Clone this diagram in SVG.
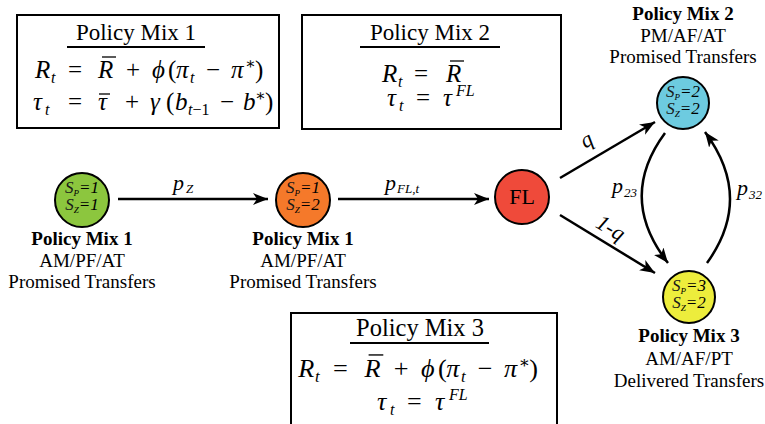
<svg xmlns="http://www.w3.org/2000/svg" width="765" height="424" viewBox="0 0 765 424" font-family="'Liberation Serif', Tinos, 'Times New Roman', 'DejaVu Serif', serif">
  <style>
    text, tspan { font-family: "Liberation Serif", Tinos, "Times New Roman", "DejaVu Serif", serif; fill: #000; }
    .box { fill: #fff; stroke: #000; stroke-width: 2; }
    .rule { stroke: #000; stroke-width: 2; }
    .bar { stroke: #000; stroke-width: 1.3; }
    .title { font-size: 23px; text-anchor: middle; }
    .eq { font-size: 25px; }
    .i { font-style: italic; }
    .sub { font-size: 16px; }
    .node { stroke: #000; stroke-width: 2; }
    .st { font-size: 17px; font-style: italic; text-anchor: middle; fill: #1a1a1a; }
    .st .s { font-size: 9px; }
    .lbl { font-size: 19px; text-anchor: middle; }
    .lbl .b { font-weight: bold; }
    .edge { fill: none; stroke: #000; stroke-width: 2.5; marker-end: url(#head); }
    .el { font-size: 22px; font-style: italic; }
    .el .s { font-size: 13px; }
  </style>
  <defs>
    <marker id="head" markerUnits="userSpaceOnUse" viewBox="0 0 15 12" refX="15" refY="6" markerWidth="15" markerHeight="12" orient="auto">
      <path d="M0,0 L15,6 L0,12 L4,6 Z" fill="#000"/>
    </marker>
  </defs>

  <!-- Policy Mix 1 rule box -->
  <g id="box-mix1">
    <rect class="box" x="17" y="15" width="262" height="113"/>
    <text class="title" x="136" y="40">Policy Mix 1</text>
    <line class="rule" x1="67" y1="47" x2="205" y2="47"/>
    <text class="eq">
      <tspan class="i" x="35" y="78">R</tspan><tspan class="i sub" x="51" y="83">t</tspan>
      <tspan x="68" y="78">=</tspan>
      <tspan class="i" x="98" y="78">R</tspan>
      <tspan x="126" y="78">+</tspan>
      <tspan class="i" x="152" y="78">ϕ</tspan><tspan x="168" y="78">(</tspan><tspan class="i" x="176" y="78">π</tspan><tspan class="i sub" x="190" y="83">t</tspan>
      <tspan x="206" y="78">−</tspan>
      <tspan class="i" x="231" y="78">π</tspan><tspan class="sub" x="245" y="69">∗</tspan><tspan x="255" y="78">)</tspan>
    </text>
    <line class="bar" x1="102" y1="57" x2="116" y2="57"/>
    <text class="eq">
      <tspan class="i" x="33" y="110">τ</tspan><tspan class="i sub" x="45" y="115">t</tspan>
      <tspan x="68" y="110">=</tspan>
      <tspan class="i" x="98" y="110">τ</tspan>
      <tspan x="125" y="110">+</tspan>
      <tspan class="i" x="150" y="110">γ</tspan><tspan x="166" y="110">(</tspan><tspan class="i" x="175" y="110">b</tspan><tspan class="sub" x="188" y="115"><tspan class="i">t</tspan>−1</tspan>
      <tspan x="220" y="110">−</tspan>
      <tspan class="i" x="243" y="110">b</tspan><tspan class="sub" x="255" y="101">∗</tspan><tspan x="265" y="110">)</tspan>
    </text>
    <line class="bar" x1="99" y1="94" x2="110" y2="94"/>
  </g>

  <!-- Policy Mix 2 rule box -->
  <g id="box-mix2">
    <rect class="box" x="302" y="15" width="259" height="114"/>
    <text class="title" x="430" y="40">Policy Mix 2</text>
    <line class="rule" x1="360" y1="47" x2="500" y2="47"/>
    <text class="eq">
      <tspan class="i" x="382" y="82">R</tspan><tspan class="i sub" x="398" y="87">t</tspan>
      <tspan x="414" y="82">=</tspan>
      <tspan class="i" x="446" y="82">R</tspan>
    </text>
    <line class="bar" x1="450" y1="61" x2="464" y2="61"/>
    <text class="eq">
      <tspan class="i" x="387" y="106">τ</tspan><tspan class="i sub" x="399" y="111">t</tspan>
      <tspan x="416" y="106">=</tspan>
      <tspan class="i" x="443" y="106">τ</tspan><tspan class="i sub" x="456" y="96">FL</tspan>
    </text>
  </g>

  <!-- Policy Mix 3 rule box -->
  <g id="box-mix3">
    <rect class="box" x="291" y="313" width="266" height="120"/>
    <text class="title" x="420" y="336" style="font-size:24.5px">Policy Mix 3</text>
    <line class="rule" x1="350" y1="343" x2="489" y2="343"/>
    <g transform="translate(261.5,295.1) scale(1.05)">
      <text class="eq">
        <tspan class="i" x="35" y="78">R</tspan><tspan class="i sub" x="51" y="83">t</tspan>
        <tspan x="68" y="78">=</tspan>
        <tspan class="i" x="98" y="78">R</tspan>
        <tspan x="126" y="78">+</tspan>
        <tspan class="i" x="152" y="78">ϕ</tspan><tspan x="168" y="78">(</tspan><tspan class="i" x="176" y="78">π</tspan><tspan class="i sub" x="190" y="83">t</tspan>
        <tspan x="206" y="78">−</tspan>
        <tspan class="i" x="231" y="78">π</tspan><tspan class="sub" x="245" y="69">∗</tspan><tspan x="255" y="78">)</tspan>
      </text>
      <line class="bar" x1="102" y1="57" x2="116" y2="57"/>
    </g>
    <text class="eq" style="font-size:26px">
      <tspan class="i" x="377" y="410">τ</tspan><tspan class="i sub" x="390" y="415">t</tspan>
      <tspan x="407" y="410">=</tspan>
      <tspan class="i" x="435" y="410">τ</tspan><tspan class="i sub" x="449" y="400">FL</tspan>
    </text>
  </g>

  <!-- Connectors -->
  <g id="connectors">
    <path class="edge" d="M118,199 L268,199"/>
    <path class="edge" d="M338,199 L489,199"/>
    <path class="edge" d="M560,178 L655,122"/>
    <path class="edge" d="M560,215 L655,273"/>
    <path class="edge" d="M665,133 Q617,198 668,263"/>
    <path class="edge" d="M707,263 Q754,198 705,132"/>
    <text class="el" x="173" y="190">p<tspan class="s" x="186" y="193">Z</tspan></text>
    <text class="el" x="385" y="190">p<tspan class="s" x="397" y="193">FL,t</tspan></text>
    <text class="el" text-anchor="middle" transform="translate(590,146) rotate(-31)">q</text>
    <text class="el" text-anchor="middle" transform="translate(607,234) rotate(31)">1-q</text>
    <text class="el" x="612" y="193">p<tspan class="s" x="624" y="197">23</tspan></text>
    <text class="el" x="737" y="195">p<tspan class="s" x="749" y="199">32</tspan></text>
  </g>

  <!-- Start state -->
  <g id="node-start">
    <circle class="node" cx="82" cy="200" r="27" fill="#8cc63e"/>
    <text class="st" x="82" y="193">S<tspan class="s" dy="3">P</tspan><tspan dy="-3">=1</tspan></text>
    <text class="st" x="82" y="210">S<tspan class="s" dy="3">Z</tspan><tspan dy="-3">=1</tspan></text>
    <text class="lbl" x="82" y="245"><tspan class="b">Policy Mix 1</tspan></text>
    <text class="lbl" x="82" y="267">AM/PF/AT</text>
    <text class="lbl" x="82" y="288">Promised Transfers</text>
  </g>

  <!-- Second state -->
  <g id="node-second">
    <circle class="node" cx="303" cy="200" r="27" fill="#f5792a"/>
    <text class="st" x="303" y="193">S<tspan class="s" dy="3">P</tspan><tspan dy="-3">=1</tspan></text>
    <text class="st" x="303" y="210">S<tspan class="s" dy="3">Z</tspan><tspan dy="-3">=2</tspan></text>
    <text class="lbl" x="303" y="245"><tspan class="b">Policy Mix 1</tspan></text>
    <text class="lbl" x="303" y="267">AM/PF/AT</text>
    <text class="lbl" x="303" y="288">Promised Transfers</text>
  </g>

  <!-- Fiscal limit -->
  <g id="node-fl">
    <circle class="node" cx="522" cy="197" r="27" fill="#ef4a3a"/>
    <text x="522" y="204" text-anchor="middle" style="font-size:22px">FL</text>
  </g>

  <!-- Policy Mix 2 state -->
  <g id="node-mix2">
    <text class="lbl" x="683" y="20"><tspan class="b">Policy Mix 2</tspan></text>
    <text class="lbl" x="683" y="42">PM/AF/AT</text>
    <text class="lbl" x="683" y="63">Promised Transfers</text>
    <circle class="node" cx="683" cy="103" r="26" fill="#6dcbe0"/>
    <text class="st" x="683" y="97">S<tspan class="s" dy="3">P</tspan><tspan dy="-3">=2</tspan></text>
    <text class="st" x="683" y="114">S<tspan class="s" dy="3">Z</tspan><tspan dy="-3">=2</tspan></text>
  </g>

  <!-- Policy Mix 3 state -->
  <g id="node-mix3">
    <circle class="node" cx="689" cy="297" r="26" fill="#eded3c"/>
    <text class="st" x="689" y="291">S<tspan class="s" dy="3">P</tspan><tspan dy="-3">=3</tspan></text>
    <text class="st" x="689" y="308">S<tspan class="s" dy="3">Z</tspan><tspan dy="-3">=2</tspan></text>
    <text class="lbl" x="689" y="342"><tspan class="b">Policy Mix 3</tspan></text>
    <text class="lbl" x="689" y="365">AM/AF/PT</text>
    <text class="lbl" x="689" y="387">Delivered Transfers</text>
  </g>
</svg>
